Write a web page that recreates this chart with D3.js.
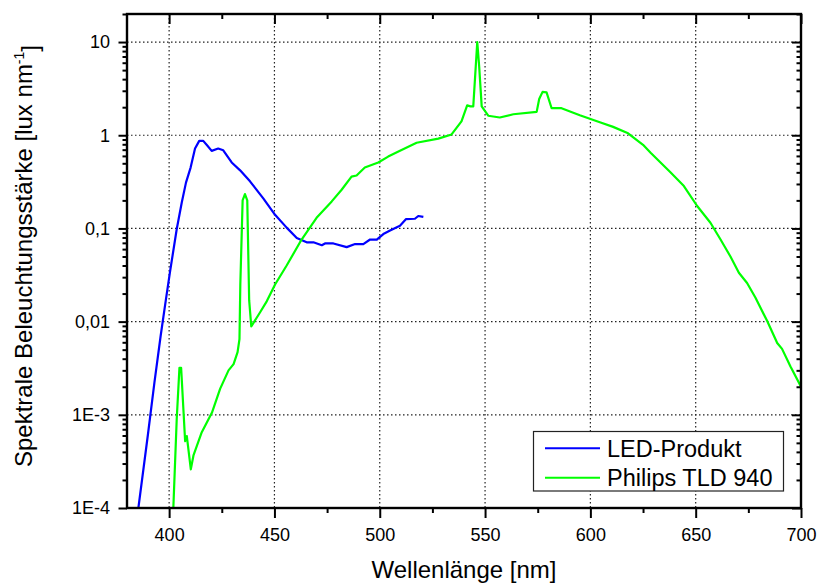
<!DOCTYPE html>
<html>
<head>
<meta charset="utf-8">
<script src="https://cdn.jsdelivr.net/npm/d3@7"></script>
<style>
  body { margin: 0; background: white; }
  svg { display: block; }
</style>
</head>
<body>
<div id="visualization"></div>
<script>
// values (wavelength in nm, illuminance in lux/nm)
let ledNm  = [385.4, 390, 393, 396, 398.5, 400.4, 403.6, 406, 408, 410.2, 412.3, 414.3, 416.2, 418, 420.2, 423.3, 425.7, 429.7, 433.7, 438.4, 444.7, 450.3, 455.8, 460.6, 465.3, 468.5, 472.5, 474, 478, 484.3, 488.3, 492.2, 495.4, 498.6, 501.7, 504.9, 509.6, 512.5, 516.7, 518.3, 520.7];
let ledVal = [1e-4, 6.3e-4, 0.0022, 0.0071, 0.0174, 0.034, 0.098, 0.19, 0.31, 0.45, 0.72, 0.87, 0.87, 0.78, 0.68, 0.72, 0.69, 0.51, 0.42, 0.32, 0.21, 0.14, 0.102, 0.079, 0.071, 0.071, 0.066, 0.069, 0.069, 0.063, 0.068, 0.068, 0.076, 0.076, 0.087, 0.095, 0.107, 0.126, 0.127, 0.136, 0.133];

let tldNm  = [402.0, 403.6, 404.9, 405.7, 407.6, 408.4, 410.3, 411.6, 415.5, 420.3, 424.2, 428.2, 430.6, 432.5, 433.4, 433.8, 434.9, 436.0, 437.1, 438.0, 439.0, 443.2, 446.4, 450.3, 455.8, 462.9, 470, 477.2, 481.9, 486.6, 489, 492.9, 499.3, 504, 509.6, 517.5, 527.8, 534.1, 538.8, 541.5, 543.1, 544.4, 546.3, 547.2, 548.4, 551.5, 557, 563.4, 574.5, 575.7, 577.3, 579.2, 581.6, 586.3, 595, 604.5, 610.8, 617.9, 625, 628.6, 638, 644.4, 650.7, 657, 661.8, 666.5, 670.5, 674.4, 678.4, 683.9, 688.7, 691.0, 695, 700];
let tldVal = [1e-4, 8.9e-4, 0.0032, 0.0032, 5.2e-4, 5.9e-4, 2.6e-4, 3.7e-4, 6.5e-4, 0.00105, 0.0019, 0.0030, 0.0035, 0.0047, 0.0065, 0.025, 0.20, 0.234, 0.20, 0.017, 0.0089, 0.0126, 0.0166, 0.025, 0.040, 0.076, 0.13, 0.195, 0.26, 0.36, 0.37, 0.45, 0.51, 0.59, 0.68, 0.83, 0.92, 1.02, 1.41, 2.09, 2.04, 2.04, 10, 5.5, 2.04, 1.62, 1.55, 1.68, 1.78, 2.45, 2.92, 2.88, 1.95, 1.95, 1.64, 1.38, 1.23, 1.05, 0.79, 0.65, 0.40, 0.285, 0.174, 0.115, 0.076, 0.050, 0.0335, 0.026, 0.018, 0.0102, 0.0059, 0.0051, 0.0033, 0.0020];

let seriesNames = ["LED-Produkt", "Philips TLD 940"];
let seriesColors = ["#0000ff", "#00ff00"];

let xTicks = [400, 450, 500, 550, 600, 650, 700];
let xMinorTicks = [425, 475, 525, 575, 625, 675];
let yTicks = [1e-4, 1e-3, 0.01, 0.1, 1, 10];
let yTickLabels = ["1E-4", "1E-3", "0,01", "0,1", "1", "10"];

let w = 820, h = 583;
// plot frame edges (top/left are taken by window, hence the prefix)
let pLeft = 127, pRight = 801, pTop = 14, pBottom = 508;
let font = "Arial, 'Liberation Sans', sans-serif";

let viz = d3.select("#visualization")
  .append("svg")
    .attr("width", w)
    .attr("height", h)
;

let xScale = d3.scaleLinear().domain([380, 700]).range([pLeft, pRight]);
let yScale = d3.scaleLog().domain([1e-4, 20]).range([pBottom, pTop]);

// minor ticks on the log axis: 2..9 of every decade
let yMinorTicks = [];
yTicks.forEach(function(d){
  for (let k = 2; k <= 9; k++){
    if (d*k <= 20) yMinorTicks.push(d*k);
  }
});

// dotted grid
let gridgroup = viz.append("g").attr("class", "grid");
gridgroup.selectAll(".vgrid").data(xTicks.filter(function(d){ return d < 700; }))
  .enter().append("line")
    .attr("x1", function(d){ return xScale(d); })
    .attr("x2", function(d){ return xScale(d); })
    .attr("y1", pTop)
    .attr("y2", pBottom)
;
gridgroup.selectAll(".hgrid").data(yTicks.filter(function(d){ return d > 1e-4; }))
  .enter().append("line")
    .attr("x1", pLeft)
    .attr("x2", pRight)
    .attr("y1", function(d){ return yScale(d); })
    .attr("y2", function(d){ return yScale(d); })
;
gridgroup.selectAll("line")
  .attr("stroke", "#222")
  .attr("stroke-width", 1.2)
  .attr("stroke-dasharray", "1.5,2.5")
;

// curves, clipped to the frame
viz.append("defs").append("clipPath").attr("id", "plotclip")
  .append("rect")
    .attr("x", pLeft).attr("y", pTop)
    .attr("width", pRight-pLeft).attr("height", pBottom-pTop)
;

let line = d3.line()
  .x(function(d){ return xScale(d[0]); })
  .y(function(d){ return yScale(d[1]); })
;

let seriesData = [
  d3.zip(ledNm, ledVal),
  d3.zip(tldNm, tldVal)
];

viz.append("g").attr("clip-path", "url(#plotclip)")
  .selectAll("path").data(seriesData)
  .enter().append("path")
    .attr("d", line)
    .attr("fill", "none")
    .attr("stroke", function(d, i){ return seriesColors[i]; })
    .attr("stroke-width", 2.2)
    .attr("stroke-linejoin", "round")
;

// axes: labels on left/bottom, ticks on all four sides
function styleAxis(g){
  g.select(".domain").remove();
  g.selectAll(".tick line")
    .attr("stroke", "#000")
    .attr("stroke-width", 2);
  g.selectAll("text")
    .attr("font-family", font)
    .attr("font-size", "18px")
    .attr("fill", "#000");
}

let fmtY = function(d){ return yTickLabels[yTicks.indexOf(d)]; };

viz.append("g")
  .attr("transform", "translate(0," + pBottom + ")")
  .call(d3.axisBottom(xScale).tickValues(xTicks).tickSize(10).tickPadding(10.5).tickFormat(d3.format("d")))
  .call(styleAxis);
viz.append("g")
  .attr("transform", "translate(0," + pBottom + ")")
  .call(d3.axisBottom(xScale).tickValues(xMinorTicks).tickSize(5).tickFormat(""))
  .call(styleAxis);
viz.append("g")
  .attr("transform", "translate(0," + pTop + ")")
  .call(d3.axisTop(xScale).tickValues(xTicks).tickSize(-10).tickFormat(""))
  .call(styleAxis);
viz.append("g")
  .attr("transform", "translate(0," + pTop + ")")
  .call(d3.axisTop(xScale).tickValues(xMinorTicks).tickSize(-5).tickFormat(""))
  .call(styleAxis);

viz.append("g")
  .attr("transform", "translate(" + pLeft + ",0)")
  .call(d3.axisLeft(yScale).tickValues(yTicks).tickSize(8.5).tickPadding(8.5).tickFormat(fmtY))
  .call(styleAxis);
viz.append("g")
  .attr("transform", "translate(" + pLeft + ",0)")
  .call(d3.axisLeft(yScale).tickValues(yMinorTicks).tickSize(4.5).tickFormat(""))
  .call(styleAxis);
viz.append("g")
  .attr("transform", "translate(" + pRight + ",0)")
  .call(d3.axisRight(yScale).tickValues(yTicks).tickSize(-9).tickFormat(""))
  .call(styleAxis);
viz.append("g")
  .attr("transform", "translate(" + pRight + ",0)")
  .call(d3.axisRight(yScale).tickValues(yMinorTicks).tickSize(-4.5).tickFormat(""))
  .call(styleAxis);

// frame
viz.append("rect")
  .attr("x", pLeft).attr("y", pTop)
  .attr("width", pRight-pLeft).attr("height", pBottom-pTop)
  .attr("fill", "none")
  .attr("stroke", "#000")
  .attr("stroke-width", 2.4)
;

// axis titles
viz.append("text")
  .attr("x", 464)
  .attr("y", 578)
  .attr("text-anchor", "middle")
  .attr("font-family", font)
  .attr("font-size", "24px")
  .text("Wellenlänge [nm]")
;

let ytitle = viz.append("text")
  .attr("transform", "translate(32,256) rotate(-90)")
  .attr("text-anchor", "middle")
  .attr("font-family", font)
  .attr("font-size", "24px")
;
ytitle.append("tspan").text("Spektrale Beleuchtungsstärke [lux nm");
ytitle.append("tspan").attr("dy", "-0.6em").attr("font-size", "14px").text("-1");
ytitle.append("tspan").attr("dy", "0.6em").text("]");

// legend
let legend = viz.append("g").attr("class", "legend");
legend.append("rect")
  .attr("x", 533.5).attr("y", 431.5)
  .attr("width", 250).attr("height", 59.5)
  .attr("fill", "white")
  .attr("stroke", "#222")
  .attr("stroke-width", 1.2)
;
let items = legend.selectAll(".item").data(seriesNames)
  .enter().append("g")
    .attr("class", "item")
    .attr("transform", function(d, i){ return "translate(0," + (448.3 + i*29.4) + ")"; })
;
items.append("line")
  .attr("x1", 545).attr("x2", 600)
  .attr("stroke", function(d, i){ return seriesColors[i]; })
  .attr("stroke-width", 2)
;
items.append("text")
  .attr("x", 607)
  .attr("dy", "0.35em")
  .attr("font-family", font)
  .attr("font-size", "23.5px")
  .text(function(d){ return d; })
;
</script>
</body>
</html>
